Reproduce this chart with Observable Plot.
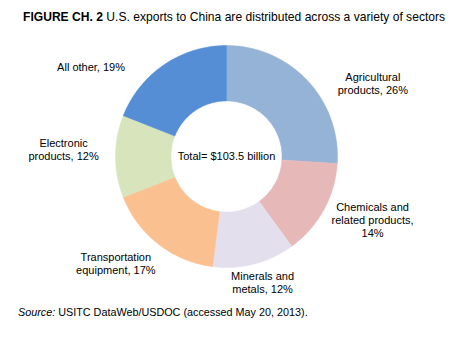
<!DOCTYPE html>
<html><head><meta charset="utf-8">
<script src="https://cdn.jsdelivr.net/npm/d3@7"></script>
<script src="https://cdn.jsdelivr.net/npm/@observablehq/plot@0.6"></script>
<style>
body{margin:0;background:#fff;font-family:"Liberation Sans",Arial,sans-serif;color:#000;}
#wrap{width:466px;height:354px;position:relative;overflow:hidden;}
#title{height:30px;box-sizing:border-box;padding:10px 0 0 23px;font-size:12.1px;line-height:14px;white-space:nowrap;}
#chart svg{display:block;}
#source{padding:6px 0 0 18px;font-size:10.8px;line-height:13px;white-space:nowrap;}
</style></head><body>
<div id="wrap">
<div id="title"><b>FIGURE CH. 2</b> U.S. exports to China are distributed across a variety of sectors</div>
<div id="chart"></div>
<div id="source"><i>Source:</i> USITC DataWeb/USDOC (accessed May 20, 2013).</div>
</div>
<script>
// ---- data ----
const sectors = ["Agricultural products", "Chemicals and related products", "Minerals and metals", "Transportation equipment", "Electronic products", "All other"];
const shares = [26, 14, 12, 17, 12, 19];
const labelTexts = ["Agricultural\nproducts, 26%", "Chemicals and\nrelated products,\n14%", "Minerals and\nmetals, 12%", "Transportation\nequipment, 17%", "Electronic\nproducts, 12%", "All other, 19%"];
const colors = ["#95b3d7", "#e6b9b8", "#e4dfec", "#fac090", "#d7e4bc", "#558ed5"];
const centerLabel = "Total= $103.5 billion";

// ---- layout (styling) ----
const W = 466, H = 270;
const cx = 226, cy = 126, R = 111;   // pixel centre / outer radius
const innerRatio = 0.5;
const labelRadius = 1.45;
const labelNudge = [[29, 37], [5, -14], [-4, -30], [-12, -20], [-2, -7], [-45, 43]]; // px

const total = d3.sum(shares);
let acc = 0;
const poly = [];
const labelRows = [];
sectors.forEach((s, i) => {
  const a0 = acc / total * 2 * Math.PI;
  acc += shares[i];
  const a1 = acc / total * 2 * Math.PI;
  const n = Math.max(8, Math.ceil((a1 - a0) / (Math.PI / 180)));
  const pts = [];
  for (let k = 0; k <= n; k++) { const a = a0 + (a1 - a0) * k / n; pts.push([Math.sin(a), Math.cos(a)]); }
  for (let k = n; k >= 0; k--) { const a = a0 + (a1 - a0) * k / n; pts.push([innerRatio * Math.sin(a), innerRatio * Math.cos(a)]); }
  pts.push(pts[0]);
  pts.forEach(([x, y]) => poly.push({sector: s, x, y}));
  const am = (a0 + a1) / 2;
  labelRows.push({
    text: labelTexts[i],
    x: labelRadius * Math.sin(am) + labelNudge[i][0] / R,
    y: labelRadius * Math.cos(am) - labelNudge[i][1] / R
  });
});

const chart = Plot.plot({
  width: W, height: H,
  margin: 0,
  x: {domain: [-cx / R, (W - cx) / R], axis: null},
  y: {domain: [-(H - cy) / R, cy / R], axis: null},
  color: {domain: sectors, range: colors},
  style: {fontFamily: "'Liberation Sans', Arial, sans-serif", background: "#fff"},
  marks: [
    Plot.line(poly, {x: "x", y: "y", z: "sector", fill: "sector", stroke: "sector", strokeWidth: 0.5, curve: "linear"}),
    Plot.text([centerLabel], {x: [0], y: [0], text: d => d, fontSize: 11, fill: "#000"}),
    Plot.text(labelRows, {x: "x", y: "y", text: "text", fontSize: 11, lineHeight: 1.2, fill: "#000", textAnchor: "middle"})
  ]
});
document.getElementById("chart").appendChild(chart);
</script>
</body></html>
